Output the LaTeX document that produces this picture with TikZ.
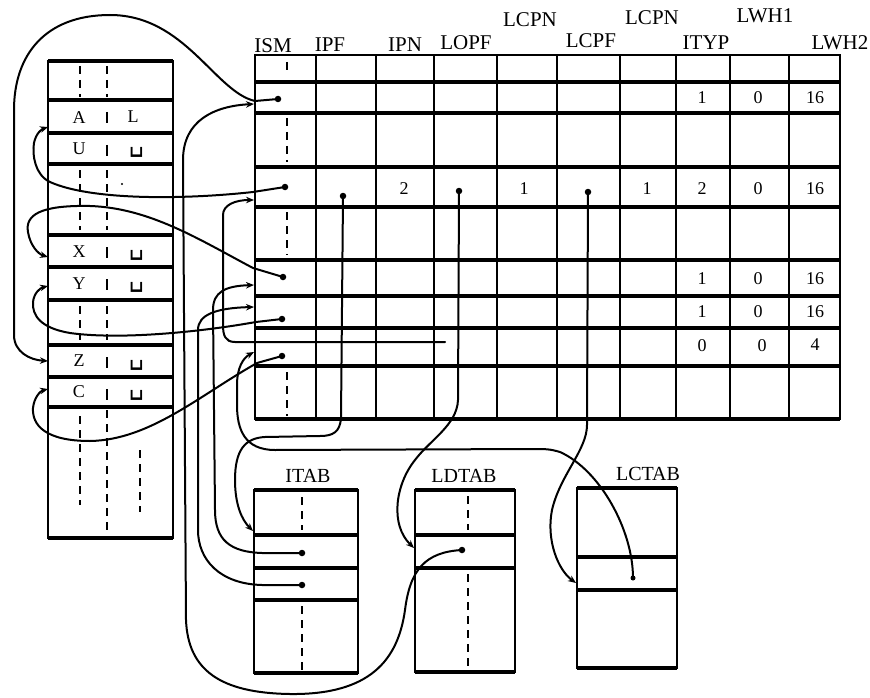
\documentclass[tikz,border=0pt]{standalone}
\usepackage{fontspec}
\usepackage{graphicx}
\setmainfont{Liberation Serif}
\newfontfamily\symfont{DejaVu Sans}
\usetikzlibrary{arrows.meta}
\newcommand{\vsp}{\scalebox{1.45}[1.9]{\symfont\fontsize{16}{16}\selectfont ␣}}
\begin{document}
\begin{tikzpicture}[x=1pt,y=-1pt,
  hl/.style={line width=3.2pt},
  vl/.style={line width=1.6pt},
  ol/.style={line width=2.2pt},
  ptr/.style={line width=2pt, line cap=round},
  arr/.style={ptr, -{Stealth[length=8pt,width=6.5pt]}},
  hdr/.style={font=\fontsize{21}{21}\selectfont, inner sep=0pt, anchor=base},
  val/.style={font=\fontsize{18}{18}\selectfont, inner sep=0pt},
  spc/.style={inner sep=0pt, text height=5pt, text depth=0pt, anchor=south},
  lbl/.style={font=\fontsize{20}{20}\selectfont, inner sep=0pt, anchor=base},
  dsh/.style={line width=1.6pt, dash pattern=on 8pt off 6pt},
  dotc/.style={fill, circle, inner sep=0pt, minimum size=6.5pt},
  ]
\useasboundingbox (0,0) rectangle (870,698);
\fill[white] (0,0) rectangle (870,698);

% ---------------- left table ----------------
\draw[ol] (48,61) rectangle (173,538);
\foreach \y in {61,100,133,164,235,267,300,345,377,407,538}
  \draw[hl] (48,\y) -- (173,\y);
% dashes
\draw[dsh] (80,66) -- (80,97);
\draw[dsh] (107,66) -- (107,97);
\foreach \y in {105,138,240,272,350,382} \draw[vl] (107,\y+7) -- (107,\y+18);
\draw[dsh] (80,170) -- (80,230);
\draw[dsh] (107,170) -- (107,230);
\fill (122,184) circle (1.2pt);
\draw[dsh] (80,306) -- (80,340);
\draw[dsh] (107,306) -- (107,340);
\draw[dsh] (80,416) -- (80,505);
\draw[dsh] (107,410) -- (107,538);
\draw[dsh] (140,450) -- (140,512);
% letters
\node[val] (tA) at (79,118) {A};
\node[val] (tL) at (133,117) {L};
\node[val] (tU) at (79,149) {U};
\node[spc] (tU2) at (137,151) {\vsp};
\node[val] (tX) at (79,252) {X};
\node[spc] (tX2) at (137,254) {\vsp};
\node[val] (tY) at (79,284) {Y};
\node[spc] (tY2) at (137,286) {\vsp};
\node[val] (tZ) at (79,361) {Z};
\node[spc] (tZ2) at (137,364) {\vsp};
\node[val] (tC) at (79,392) {C};
\node[spc] (tC2) at (137,394) {\vsp};

% ---------------- main table ----------------
\foreach \x in {316,376,434,497,557,620,676,730,789}
  \draw[vl] (\x,55) -- (\x,419);
\draw[ol] (255,55) rectangle (840,419);
\foreach \y in {82,113,167,207,260,296,328,366,419}
  \draw[hl] (255,\y) -- (840,\y);
\draw[line width=2.6pt] (255,55) -- (840,55);
\draw[vl] (287,62) -- (287,70);
\draw[dsh] (287,118) -- (287,162);
\draw[dsh] (287,212) -- (287,255);
\draw[dsh] (287,372) -- (287,416);

% headers
\node[hdr] (hISM)  at (273,53) {ISM};
\node[hdr] (hIPF)  at (330,52) {IPF};
\node[hdr] (hIPN)  at (405,52) {IPN};
\node[hdr] (hLOPF) at (466,50) {LOPF};
\node[hdr] (hLCPN) at (530,27) {LCPN};
\node[hdr] (hLCPF) at (591,48) {LCPF};
\node[hdr] (hLCPNb) at (652,25) {LCPN};
\node[hdr] (hITYP) at (706,50) {ITYP};
\node[hdr] (hLWHa) at (765,23) {LWH1};
\node[hdr] (hLWHb) at (840,50) {LWH2};

% values
\node[val] (v11) at (702,98) {1};
\node[val] (v12) at (758,98) {0};
\node[val] (v13) at (815,98) {16};
\node[val] (v21) at (404,189) {2};
\node[val] (v22) at (524,189) {1};
\node[val] (v23) at (647,189) {1};
\node[val] (v24) at (702,189) {2};
\node[val] (v25) at (758,189) {0};
\node[val] (v26) at (815,189) {16};
\node[val] (v31) at (702,279) {1};
\node[val] (v32) at (758,279) {0};
\node[val] (v33) at (815,279) {16};
\node[val] (v41) at (702,312) {1};
\node[val] (v42) at (758,312) {0};
\node[val] (v43) at (815,312) {16};
\node[val] (v51) at (702,346) {0};
\node[val] (v52) at (762,346) {0};
\node[val] (v53) at (815,345) {4};

% ---------------- ITAB / LDTAB / LCTAB ----------------
\node[lbl] (lITAB) at (308,482) {ITAB};
\node[lbl] (lLDTAB) at (464,482) {LDTAB};
\node[lbl] (lLCTAB) at (648,480) {LCTAB};
\draw[ol] (254,490) rectangle (358,673);
\foreach \y in {490,535,568,600,673} \draw[hl] (254,\y) -- (358,\y);
\draw[dsh] (302,497) -- (302,530);
\draw[dsh] (302,606) -- (302,673);
\draw[ol] (415,490) rectangle (515,672);
\foreach \y in {490,535,568,672} \draw[hl] (415,\y) -- (515,\y);
\draw[dsh] (468,496) -- (468,530);
\draw[dsh] (468,574) -- (468,668);
\draw[ol] (577,488) rectangle (677,668);
\foreach \y in {488,557,590,668} \draw[hl] (577,\y) -- (677,\y);

% ---------------- anchor points ----------------
\node[dotc] (d1) at (278,99) {};
\node[dotc] (d3) at (285,187) {};
\node[dotc] (dipf) at (343,196) {};
\node[dotc] (dlopf) at (459,191) {};
\node[dotc] (dlcpf) at (588,192) {};
\node[dotc] (d5) at (283,277) {};
\node[dotc] (d6) at (282,319) {};
\node[dotc] (d7) at (282,356) {};
\node[dotc] (dit2) at (302,553) {};
\node[dotc] (dit3) at (302,585) {};
\node[dotc] (dld) at (462,550) {};
\node[dotc, minimum size=5pt] (dlc) at (633,578) {};
\coordinate (zA) at (48,127);
\coordinate (zX) at (48,257);
\coordinate (zY) at (48,286);
\coordinate (zZ) at (48,361);
\coordinate (zC) at (48,389);
\coordinate (m1in) at (254,104);
\coordinate (m3in) at (254,200);
\coordinate (m5in) at (254,285);
\coordinate (m6in) at (254,307);
\coordinate (m7in) at (254,352);
\coordinate (itin) at (253,531);
\coordinate (ldin) at (414,548);
\coordinate (lcin) at (576,583);
\coordinate (e45) at (445,342);

% ---------------- connectors ----------------
% ISM row 1 -> Z
\draw[arr] (d1.center) -- (255,101) .. controls (215,92) and (185,15) .. (110,15)
  .. controls (45,15) and (14,55) .. (14,110) -- (14,335)
  .. controls (14,352) and (30,360) .. (zZ);
% LDTAB -> ISM row 1
\draw[arr] (dld.center) .. controls (425,552) and (410,570) .. (405,610)
  .. controls (398,660) and (370,695) .. (290,694)
  .. controls (220,693) and (188,670) .. (186,620) -- (183,160)
  .. controls (183,120) and (215,106) .. (m1in);
% ISM row 3 -> A
\draw[arr] (d3.center) -- (253,192) .. controls (180,200) and (90,200) .. (50,182)
  .. controls (35,175) and (32,155) .. (34,143)
  .. controls (36,133) and (42,129) .. (zA);
% ISM row 5 -> X
\draw[arr] (d5.center) -- (253,268) .. controls (200,240) and (150,208) .. (90,206)
  .. controls (40,205) and (25,215) .. (28,232)
  .. controls (30,245) and (38,254) .. (zX);
% ISM row 6 -> Y
\draw[arr] (d6.center) -- (256,322) .. controls (200,332) and (120,340) .. (70,333)
  .. controls (40,328) and (32,315) .. (33,302)
  .. controls (34,293) and (40,288) .. (zY);
% ISM row 7 -> C
\draw[arr] (d7.center) -- (257,363) .. controls (200,395) and (150,440) .. (90,441)
  .. controls (45,441) and (32,425) .. (33,408)
  .. controls (34,398) and (40,391) .. (zC);
% IPF -> ITAB
\draw[arr] (dipf.center) -- (341,418) .. controls (340,432) and (333,436) .. (320,436)
  -- (265,437) .. controls (245,438) and (235,450) .. (235,480)
  .. controls (235,505) and (242,520) .. (itin);
% LOPF -> LDTAB
\draw[arr] (dlopf.center) -- (458,400) .. controls (457,425) and (430,440) .. (415,460)
  .. controls (395,485) and (390,525) .. (ldin);
% LCPF -> LCTAB
\draw[arr] (dlcpf.center) -- (587,425) .. controls (587,450) and (560,475) .. (552,510)
  .. controls (546,540) and (558,570) .. (lcin);
% LCTAB -> ISM row 7
\draw[arr] (dlc.center) .. controls (633,530) and (600,470) .. (560,452)
  .. controls (550,449) and (545,449) .. (535,449) -- (275,450)
  .. controls (245,450) and (237,430) .. (237,405) -- (237,385)
  .. controls (237,368) and (243,358) .. (m7in);
% ITAB row 2 -> ISM row 5
\draw[arr] (dit2.center) -- (262,553) .. controls (230,552) and (215,540) .. (215,510)
  -- (213,310) .. controls (213,292) and (225,286) .. (m5in);
% ITAB row 3 -> ISM row 6
\draw[arr] (dit3.center) -- (262,585) .. controls (220,584) and (198,560) .. (198,530)
  -- (198,330) .. controls (198,315) and (215,308) .. (m6in);
% long line in row 7 -> ISM row 3
\draw[arr] (e45) -- (235,342) .. controls (225,342) and (223,335) .. (223,325)
  -- (223,215) .. controls (223,205) and (235,200) .. (m3in);
\end{tikzpicture}
\end{document}
